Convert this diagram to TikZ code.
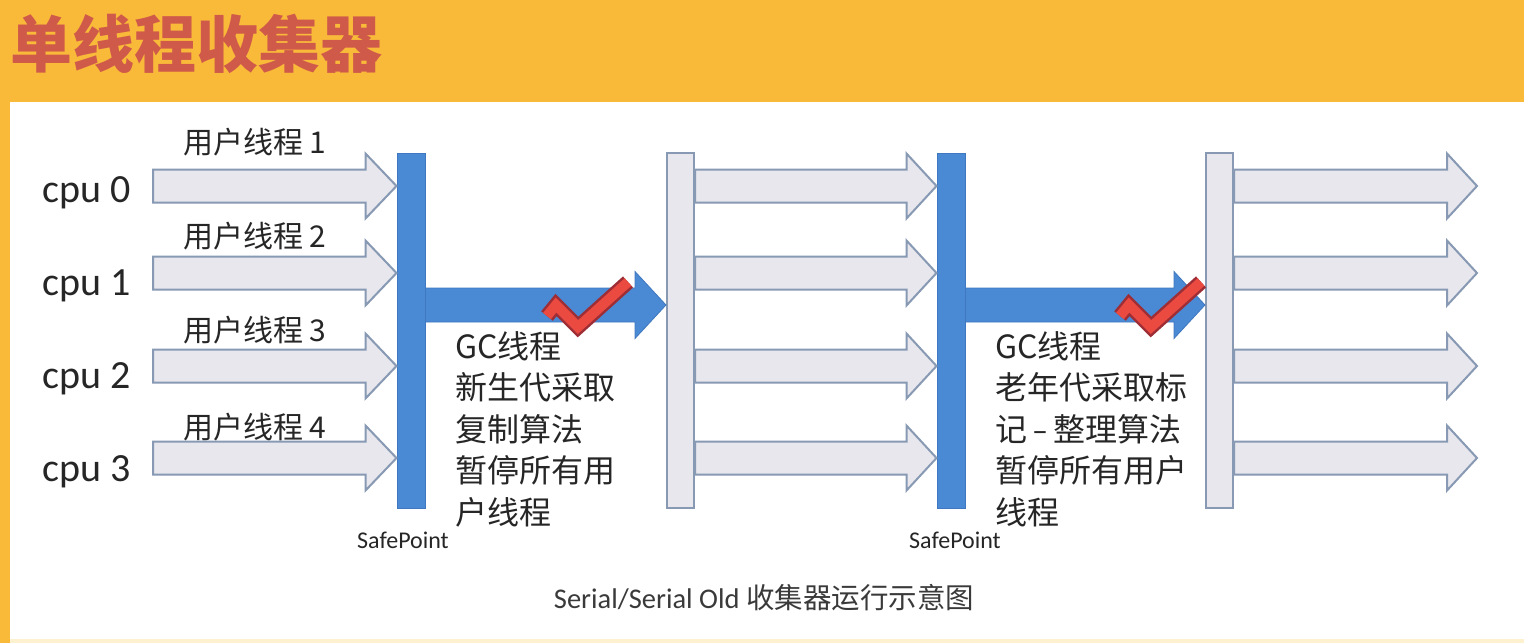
\documentclass[tikz,border=0pt]{standalone}
\usepackage{fontspec}
\setmainfont{Carlito}
\newfontfamily\cjk{Noto Sans CJK SC}
\usetikzlibrary{calc}

\definecolor{bgorange}{HTML}{F9BA3A}
\definecolor{cream}{HTML}{FDF1CF}
\definecolor{titlered}{HTML}{D05A4A}
\definecolor{barblue}{HTML}{4A89D4}
\definecolor{barblueedge}{HTML}{3F78C0}
\definecolor{lightfill}{HTML}{E7E7ED}
\definecolor{lightedge}{HTML}{8799B3}
\definecolor{txt}{HTML}{262626}
\definecolor{captxt}{HTML}{3A3A3A}
\definecolor{checkred}{HTML}{EA4A40}
\definecolor{checkedge}{HTML}{9E2E36}

% horizontal block arrow: style, start, tip, head length, shaft half width, head half width
\newcommand\blockarrow[6]{%
  \path[#1] ($(#2)+(0,-#5)$) -- ($(#3)+(-#4,-#5)$) -- ($(#3)+(-#4,-#6)$) -- (#3)
    -- ($(#3)+(-#4,#6)$) -- ($(#3)+(-#4,#5)$) -- ($(#2)+(0,#5)$) -- cycle;}

\tikzset{
  bluebar/.style={rectangle, fill=barblue, draw=barblueedge, line width=1,
    minimum width=28, minimum height=355, inner sep=0},
  lightbar/.style={rectangle, fill=lightfill, draw=lightedge, line width=2,
    minimum width=27, minimum height=355, inner sep=0},
  threadarrow/.style={fill=lightfill, draw=lightedge, line width=2, line join=miter},
  gcarrow/.style={fill=barblue, draw=barblueedge, line width=0.8},
  cpulabel/.style={anchor=base west, inner sep=0, text=txt, font=\fontsize{40}{48}\selectfont},
  threadlabel/.style={anchor=west, inner sep=0, text=txt, font=\cjk\fontsize{30}{36}\selectfont},
  gctext/.style={anchor=north west, inner sep=0, align=left, text=txt,
    font=\cjk\fontsize{32}{41.5}\selectfont},
  safelabel/.style={inner sep=0, text=txt, font=\fontsize{24}{28}\selectfont},
  checkout/.style={draw=checkedge, line width=15, line join=miter, miter limit=4},
  checkin/.style={draw=checkred, line width=10, line join=miter, miter limit=4},
}

\begin{document}
\begin{tikzpicture}[x=1pt, y=-1pt]
  \useasboundingbox (0,0) rectangle (1524,643);
  % slide background and white panel
  \fill[bgorange] (0,0) rectangle (1524,643);
  \fill[cream] (10,637) rectangle (1524,643);
  \fill[white] (10,102) rectangle (1524,639);

  \node[anchor=west, inner sep=0, text=titlered, font=\cjk\bfseries\fontsize{62}{70}\selectfont]
    (title) at (10,44) {单线程收集器};

  % safepoint bars
  \node[bluebar]  (b1) at (411,330.5) {};
  \node[lightbar] (b2) at (680.5,330.5) {};
  \node[bluebar]  (b3) at (951,330.5) {};
  \node[lightbar] (b4) at (1219.5,330.5) {};

  % row anchors for the four cpus
  \foreach \i/\y in {0/186,1/273,2/366,3/458} {
    \coordinate (r\i) at (0,\y);
    \coordinate (ls\i) at (153,\y);
    \coordinate (lt\i) at (b1.west |- r\i);
    \coordinate (ms\i) at (b2.east |- r\i);
    \coordinate (mt\i) at (b3.west |- r\i);
    \coordinate (rs\i) at (b4.east |- r\i);
    \coordinate (rt\i) at (1477,\y);
  }
  \foreach \i in {0,1,2,3} {
    \blockarrow{threadarrow}{ls\i}{lt\i}{31}{16.5}{32.5}
    \blockarrow{threadarrow}{ms\i}{mt\i}{30}{16.5}{32.5}
    \blockarrow{threadarrow}{rs\i}{rt\i}{30}{16.5}{32.5}
  }

  % GC thread arrows
  \coordinate (g1s) at (b1.east |- 0,305);
  \coordinate (g1t) at (b2.west |- 0,305);
  \coordinate (g2s) at (b3.east |- 0,305);
  \coordinate (g2t) at (b4.west |- 0,305);
  \blockarrow{gcarrow}{g1s}{g1t}{31}{17}{33.5}
  \blockarrow{gcarrow}{g2s}{g2t}{31}{17}{33.5}

  % check marks on the GC arrows
  \foreach \dx/\n in {0/1,573/2} {
    \coordinate (c\n a) at (547+\dx,316);
    \coordinate (c\n b) at (556+\dx,305);
    \coordinate (c\n c) at (578+\dx,327);
    \coordinate (c\n d) at (628+\dx,282);
    \draw[checkout] (c\n a) -- (c\n b) -- (c\n c) -- (c\n d);
    \draw[checkin]  (c\n a) -- (c\n b) -- (c\n c) -- (c\n d);
  }

  % cpu labels and user thread labels
  \node[cpulabel] (cpu0) at (42,202) {cpu 0};
  \node[cpulabel] (cpu1) at (42,295) {cpu 1};
  \node[cpulabel] (cpu2) at (42,388) {cpu 2};
  \node[cpulabel] (cpu3) at (42,481) {cpu 3};
  \node[threadlabel] (u1) at (183,142) {用户线程 1};
  \node[threadlabel] (u2) at (183,236) {用户线程 2};
  \node[threadlabel] (u3) at (183,330) {用户线程 3};
  \node[threadlabel] (u4) at (183,427) {用户线程 4};

  % GC notes
  \node[gctext] (gc1) at (455,331) {GC线程\\新生代采取\\复制算法\\暂停所有用\\户线程};
  \node[gctext] (gc2) at (995,331)
    {GC线程\\老年代采取标\\记{\rmfamily\hspace{5pt}–\hspace{5pt}}整理算法\\暂停所有用户\\线程};

  \node[safelabel] (sp1) at (403,540) {SafePoint};
  \node[safelabel] (sp2) at (955,540) {SafePoint};

  \node[inner sep=0, text=captxt, font=\fontsize{28.5}{34}\selectfont] (caption) at (764,598)
    {Serial/Serial Old {\cjk 收集器运行示意图}};
\end{tikzpicture}
\end{document}
